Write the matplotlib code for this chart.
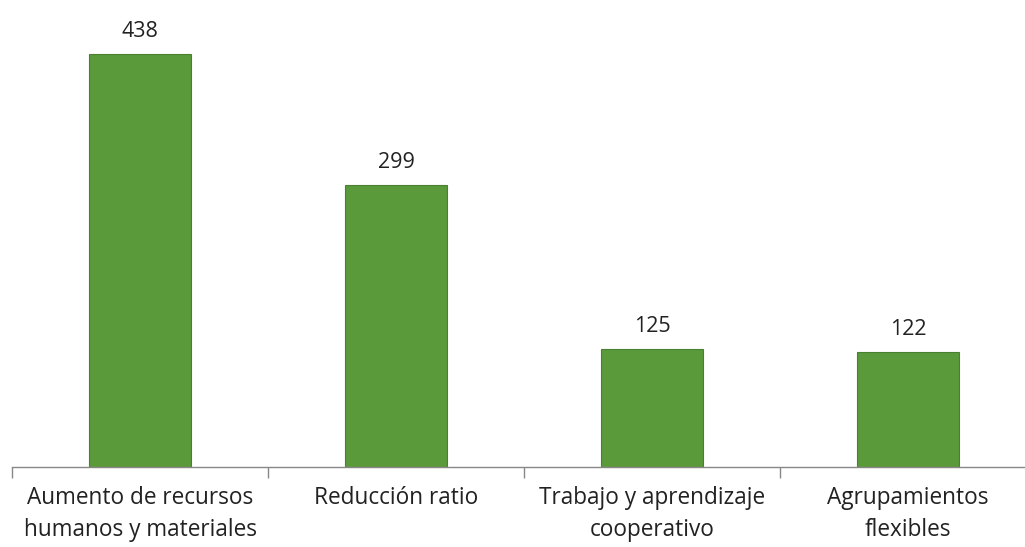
import matplotlib.pyplot as plt
import numpy as np

categories = ['Aumento de recursos\nhumanos y materiales', 'Reducción ratio',
              'Trabajo y aprendizaje\ncooperativo', 'Agrupamientos\nflexibles']
values = [438, 299, 125, 122]

plt.rcParams['font.family'] = ['Open Sans', 'DejaVu Sans']

fig = plt.figure(figsize=(10.25, 5.47), dpi=100)
# axis extends a bit past the right edge, as in the source
ax = fig.add_axes([12 / 1025, 80 / 547, 1024 / 1025, 467 / 547])

x = np.arange(len(categories))
bars = ax.bar(x, values, width=0.4, color='#5a9a3b', edgecolor='#4a8030', linewidth=0.8)

for b, v in zip(bars, values):
    ax.text(b.get_x() + b.get_width() / 2, v + 13, str(v), ha='center', va='bottom',
            fontsize=15.5, color='#222222')

ax.set_xlim(-0.5, len(categories) - 0.5)
ax.set_ylim(0, 495)
ax.set_xticks(x)
ax.set_xticklabels(categories, fontsize=16.3, color='#222222', linespacing=1.42)
ax.set_xticks(np.arange(-0.5, len(categories), 1), minor=True)
ax.tick_params(axis='x', which='major', length=0, pad=14)
ax.tick_params(axis='x', which='minor', length=8, color='#888888', width=1)
ax.set_yticks([])

for s in ['top', 'right', 'left']:
    ax.spines[s].set_visible(False)
ax.spines['bottom'].set_color('#888888')
ax.spines['bottom'].set_linewidth(1)

fig.savefig('out.png', dpi=100)
